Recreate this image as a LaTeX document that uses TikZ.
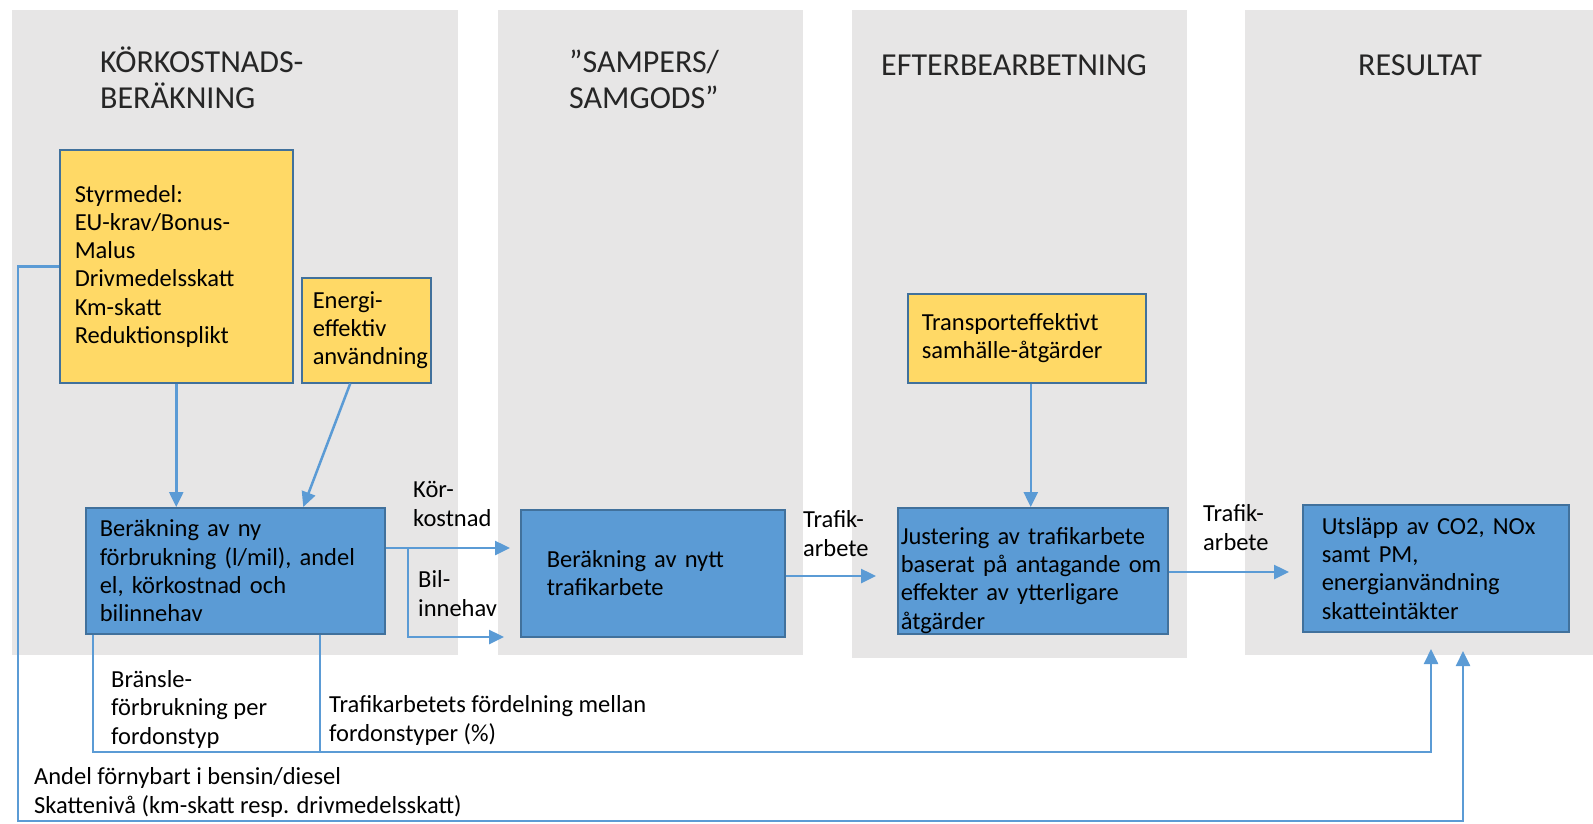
\documentclass[tikz,border=0pt]{standalone}
\usepackage{fontspec}
\setmainfont{Carlito}
\usetikzlibrary{arrows.meta,positioning}
\definecolor{panelgray}{HTML}{E7E6E6}
\definecolor{boxyellow}{HTML}{FFD966}
\definecolor{boxblue}{HTML}{5B9BD5}
\definecolor{boxedge}{HTML}{41719C}
\definecolor{flowblue}{HTML}{5B9BD5}
\begin{document}
\begin{tikzpicture}[x=1pt,y=-1pt]
    \tikzstyle{panel}=[fill=panelgray];
    \tikzstyle{heading}=[anchor=base west, align=left, inner sep=0pt, font=\fontsize{32}{36}\selectfont, text=black!85];
    \tikzstyle{input box}=[draw=boxedge, line width=1.5pt, fill=boxyellow, anchor=north west, align=left, inner ysep=0pt, font=\fontsize{24.5}{28.3}\selectfont];
    \tikzstyle{model box}=[input box, fill=boxblue];
    \tikzstyle{flow label}=[anchor=base west, align=left, inner sep=0pt, font=\fontsize{24.5}{28.3}\selectfont];
    \tikzstyle{flow}=[draw=flowblue, line width=2.5pt, -{Triangle[length=15pt,width=14pt]}];
    \tikzstyle{flow line}=[draw=flowblue, line width=2.5pt];

    \useasboundingbox (0,0) rectangle (1593,823);

    % columns
    \fill[panel] (12,10) rectangle (458,655);
    \fill[panel] (498,10) rectangle (803,655);
    \fill[panel] (852,10) rectangle (1187,658);
    \fill[panel] (1245,10) rectangle (1593,655);

    % (base of a multi-line node = its last line)
    \node[heading] (h1) at (100,108) {KÖRKOSTNADS-\\BERÄKNING};
    \node[heading] (h2) at (569,108) {”SAMPERS/\\SAMGODS”};
    \node[heading] (h3) at (881,75) {EFTERBEARBETNING};
    \node[heading] (h4) at (1358,75) {RESULTAT};

    % inputs
    \node[input box, text width=203pt, inner xsep=15pt, minimum height=233pt] (styrmedel) at (59,149)
        {Styrmedel:\\EU-krav/Bonus-\\Malus\\Drivmedelsskatt\\Km-skatt\\Reduktionsplikt};
    \node[input box, text width=107pt, inner xsep=11pt, minimum height=105pt] (energi) at (301,277)
        {Energi-\\effektiv\\användning};
    \node[input box, text width=210pt, inner xsep=14pt, minimum height=89pt] (transport) at (907,293)
        {Transporteffektivt\\samhälle-åtgärder};

    % model steps
    \node[model box, text width=271pt, inner xsep=14pt, minimum height=126pt] (berny) at (85,507)
        {Beräkning av ny\\förbrukning (l/mil), andel\\el, körkostnad och\\bilinnehav};
    \node[model box, text width=212pt, inner xsep=26pt, minimum height=127pt] (nytt) at (520,509)
        {Beräkning av nytt\\trafikarbete};
    \node[model box, text width=264pt, inner xsep=3pt, minimum height=126pt, text height=36pt] (justering) at (897,507)
        {Justering av trafikarbete\\baserat på antagande om\\effekter av ytterligare\\åtgärder};
    \node[model box, text width=228pt, inner xsep=19pt, minimum height=127pt] (utslapp) at (1302,504)
        {Utsläpp av CO2, NOx\\samt PM,\\energianvändning\\skatteintäkter};

    % labels
    \node[flow label] (kor) at (413,526) {Kör-\\kostnad};
    \node[flow label] (bil) at (418,616) {Bil-\\innehav};
    \node[flow label] (traf1) at (803,556) {Trafik-\\arbete};
    \node[flow label] (traf2) at (1203,550) {Trafik-\\arbete};
    \node[flow label] (bransle) at (111,744) {Bränsle-\\förbrukning per\\fordonstyp};
    \node[flow label] (fordel) at (329,741) {Trafikarbetets fördelning mellan\\fordonstyper (\%)};
    \node[flow label] (andel) at (34,813) {Andel förnybart i bensin/diesel\\Skattenivå (km-skatt resp. drivmedelsskatt)};

    \coordinate (kor end) at (510,548);
    \coordinate (bil split) at (408,548);
    \coordinate (bil end) at (504,637);
    \coordinate (traf end) at (876,576);
    \coordinate (traf2 end) at (1289,572);
    \coordinate (fb a) at ([xshift=8pt]berny.south west);
    \coordinate (fb b) at ([xshift=235pt]berny.south west);
    \coordinate (fb corner) at (1431,752);
    \coordinate (fb end) at (1431,649);
    \coordinate (out left) at (18,821);
    \coordinate (out corner) at (1463,821);
    \coordinate (out end) at (1463,651);

    \draw[flow] (styrmedel.south) -- (styrmedel.south |- berny.north);
    \draw[flow] ([xshift=-16pt]energi.south) -- ([xshift=68pt]berny.north);
    \draw[flow] ([xshift=4pt]transport.south) -- ([xshift=-2pt]justering.north);

    \draw[flow] (berny.east |- kor end) -- (kor end);
    \draw[flow] (bil split) |- (bil end);
    \draw[flow] (nytt.east |- traf end) -- (traf end);
    \draw[flow] (justering.east |- traf2 end) -- (traf2 end);

    \draw[flow] (fb a) |- (fb corner) -- (fb end);
    \draw[flow line] (fb b) -- (fb b |- fb corner);
    \draw[flow] (styrmedel.west) -| (out left) -- (out corner) -- (out end);
\end{tikzpicture}
\end{document}
